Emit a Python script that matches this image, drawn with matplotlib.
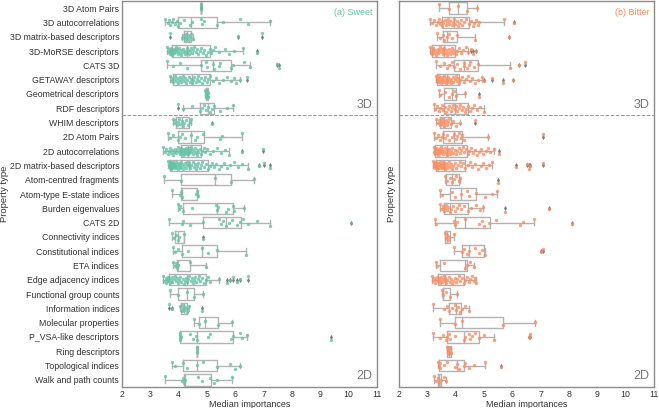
import numpy as np
import matplotlib
matplotlib.use("Agg")
import matplotlib.pyplot as plt

plt.rcParams["font.family"] = ["Liberation Sans", "DejaVu Sans"]

# =========================
# DATA
# =========================

categories = [
    "3D Atom Pairs", "3D autocorrelations", "3D matrix-based descriptors",
    "3D-MoRSE descriptors", "CATS 3D", "GETAWAY descriptors",
    "Geometrical descriptors", "RDF descriptors", "WHIM descriptors",
    "2D Atom Pairs", "2D autocorrelations", "2D matrix-based descriptors",
    "Atom-centred fragments", "Atom-type E-state indices", "Burden eigenvalues",
    "CATS 2D", "Connectivity indices", "Constitutional indices", "ETA indices",
    "Edge adjacency indices", "Functional group counts", "Information indices",
    "Molecular properties", "P_VSA-like descriptors", "Ring descriptors",
    "Topological indices", "Walk and path counts",
]

# box statistics (sweet)
sweet_q1 = [4.78, 3.96, 4.19, 3.75, 4.78, 3.79, 4.95, 4.76, 3.91, 3.96, 4.07, 3.70, 4.07, 4.07,
            4.17, 4.85, 3.87, 4.12, 3.93, 3.65, 3.99, 4.10, 4.73, 4.05, 4.64, 4.17, 4.19]
sweet_med = [4.78, 4.43, 4.30, 4.30, 5.20, 4.46, 4.99, 5.02, 4.11, 4.43, 4.34, 4.38, 5.29, 4.12,
             5.35, 5.67, 3.96, 4.82, 3.97, 4.30, 4.29, 4.20, 4.93, 4.66, 4.64, 4.64, 4.22]
sweet_q3 = [4.78, 5.37, 4.43, 5.10, 5.84, 5.09, 5.03, 5.23, 4.38, 4.90, 4.78, 5.02, 5.84, 4.66,
            5.91, 6.19, 4.20, 5.37, 4.40, 4.95, 4.54, 4.30, 5.40, 5.91, 4.64, 5.35, 5.13]
sweet_lo = [4.78, 3.51, 4.11, 3.60, 3.58, 3.70, 4.93, 4.17, 3.79, 3.64, 3.46, 3.64, 3.48, 3.76,
            3.99, 3.67, 3.78, 3.79, 3.81, 3.45, 3.70, 4.05, 4.54, 4.03, 4.64, 3.76, 3.52]
sweet_hi = [4.78, 7.23, 4.50, 6.26, 6.52, 6.15, 5.05, 5.93, 4.45, 6.23, 5.76, 6.46, 6.66, 4.70,
            6.29, 7.21, 4.20, 6.36, 4.97, 5.44, 4.87, 4.35, 5.88, 6.41, 4.64, 6.17, 5.88]

sweet_points = [
    [4.78, 4.78, 4.79],
    [3.51, 3.62, 3.66, 3.70, 3.76, 3.81, 3.86, 3.93, 3.98, 4.05, 4.20, 4.40, 4.46, 4.80, 4.83,
     4.88, 5.35, 5.58, 6.17, 6.46, 7.23],
    [3.70, 4.12, 4.18, 4.21, 4.24, 4.27, 4.30, 4.33, 4.36, 4.40, 4.44, 4.50, 6.08, 6.93],
    [3.60, 3.64, 3.66, 3.69, 3.71, 3.72, 3.74, 3.76, 3.77, 3.80, 3.82, 3.83, 3.86, 3.89, 3.91,
     3.94, 3.96, 3.99, 4.02, 4.05, 4.08, 4.10, 4.14, 4.17, 4.21, 4.24, 4.28, 4.30, 4.33, 4.36,
     4.41, 4.45, 4.47, 4.52, 4.55, 4.61, 4.66, 4.70, 4.76, 4.80, 4.86, 4.91, 4.97, 5.03, 5.09,
     5.14, 5.21, 5.29, 5.44, 5.62, 5.79, 5.97, 6.26, 6.78],
    [3.58, 3.81, 4.05, 4.29, 4.78, 4.97, 5.00, 5.20, 5.25, 5.44, 5.46, 5.84, 5.93, 6.31, 6.52,
     7.47, 7.54],
    [3.70, 3.74, 3.77, 3.80, 3.83, 3.86, 3.90, 3.93, 3.97, 4.01, 4.05, 4.09, 4.12, 4.16, 4.20,
     4.24, 4.27, 4.31, 4.35, 4.40, 4.44, 4.47, 4.51, 4.55, 4.60, 4.64, 4.69, 4.73, 4.78, 4.82,
     4.88, 4.93, 4.99, 5.05, 5.12, 5.20, 5.31, 5.42, 5.56, 5.72, 5.85, 5.94, 6.03, 6.15, 6.41],
    [4.93, 4.95, 4.96, 4.98, 4.99, 5.00, 5.01, 5.03, 5.05],
    [3.96, 4.17, 4.46, 4.76, 4.82, 4.88, 4.97, 5.05, 5.11, 5.17, 5.23, 5.46, 5.70, 5.93],
    [3.79, 3.84, 3.88, 3.93, 3.97, 4.01, 4.06, 4.11, 4.15, 4.20, 4.27, 4.34, 4.40, 4.45, 5.18],
    [3.64, 3.70, 3.79, 3.96, 4.03, 4.11, 4.23, 4.43, 4.58, 4.66, 4.87, 5.46, 5.52, 6.23],
    [3.46, 3.52, 3.57, 3.61, 3.66, 3.70, 3.73, 3.77, 3.80, 3.84, 3.88, 3.91, 3.95, 3.98, 4.01,
     4.04, 4.06, 4.08, 4.10, 4.12, 4.14, 4.16, 4.18, 4.20, 4.22, 4.24, 4.26, 4.28, 4.30, 4.32,
     4.34, 4.36, 4.38, 4.40, 4.42, 4.45, 4.48, 4.51, 4.54, 4.57, 4.60, 4.63, 4.66, 4.70, 4.74,
     4.78, 4.83, 4.88, 4.94, 5.01, 5.10, 5.22, 5.35, 5.48, 5.62, 5.76, 6.23, 6.99],
    [3.64, 3.66, 3.68, 3.69, 3.70, 3.71, 3.72, 3.73, 3.74, 3.75, 3.76, 3.78, 3.79, 3.81, 3.82,
     3.84, 3.86, 3.88, 3.90, 3.92, 3.94, 3.96, 3.98, 4.00, 4.03, 4.05, 4.08, 4.10, 4.13, 4.16,
     4.19, 4.22, 4.25, 4.28, 4.31, 4.35, 4.38, 4.41, 4.45, 4.49, 4.53, 4.57, 4.61, 4.65, 4.70,
     4.74, 4.79, 4.84, 4.90, 4.96, 5.02, 5.09, 5.16, 5.24, 5.32, 5.41, 5.50, 5.60, 5.71, 5.82,
     5.95, 6.08, 6.22, 6.46, 6.82, 7.02, 7.23],
    [3.48, 4.07, 5.29, 5.84, 6.66],
    [3.76, 4.05, 4.08, 4.12, 4.60, 4.66, 4.70],
    [3.99, 4.02, 4.05, 4.17, 4.46, 5.33, 5.35, 5.38, 5.68, 5.74, 5.91, 5.95, 6.29],
    [3.67, 4.11, 4.17, 4.40, 4.85, 5.44, 5.49, 5.56, 5.67, 5.79, 5.87, 6.05, 6.17, 6.27, 6.46,
     6.76, 7.21, 10.08],
    [3.78, 3.84, 3.91, 3.96, 4.00, 4.20, 4.85],
    [3.79, 3.87, 3.96, 4.11, 4.34, 4.82, 5.05, 5.35, 6.36],
    [3.81, 3.86, 3.90, 3.95, 3.98, 4.40, 4.97],
    [3.45, 3.50, 3.54, 3.57, 3.60, 3.62, 3.64, 3.66, 3.69, 3.72, 3.75, 3.78, 3.82, 3.86, 3.90,
     3.94, 3.98, 4.02, 4.06, 4.10, 4.14, 4.18, 4.22, 4.26, 4.30, 4.34, 4.38, 4.42, 4.46, 4.50,
     4.54, 4.58, 4.62, 4.67, 4.72, 4.77, 4.83, 4.89, 4.95, 5.02, 5.09, 5.44, 5.70, 5.82, 5.93,
     6.05, 6.17, 6.43],
    [3.70, 3.99, 4.29, 4.54, 4.87],
    [3.67, 3.76, 4.05, 4.11, 4.14, 4.17, 4.20, 4.24, 4.28, 4.31, 4.35, 4.82],
    [4.54, 4.73, 4.93, 5.40, 5.88],
    [4.03, 4.04, 4.05, 4.06, 4.07, 4.40, 4.50, 4.62, 4.66, 5.02, 5.11, 5.85, 5.91, 6.17, 6.25,
     6.41, 9.37],
    [4.64, 4.64, 4.64],
    [3.76, 3.88, 4.17, 4.29, 4.64, 4.87, 5.35, 5.82, 6.00, 6.17],
    [3.52, 4.11, 4.15, 4.19, 4.22, 4.70, 4.82, 5.09, 5.23, 5.35, 5.88],
]

# box statistics (bitter)
bitter_q1 = [3.75, 3.52, 3.55, 3.16, 3.93, 3.34, 3.58, 3.58, 3.46, 3.55, 3.28, 3.32, 3.66, 3.81,
             3.58, 3.99, 3.64, 4.22, 3.46, 3.36, 3.54, 3.75, 3.99, 3.69, 3.69, 3.42, 3.36]
bitter_med = [4.07, 3.95, 3.68, 3.58, 4.31, 3.69, 3.87, 3.99, 3.60, 3.95, 3.69, 3.58, 3.87, 4.19,
              3.79, 4.34, 3.69, 4.46, 4.34, 3.64, 3.56, 4.02, 4.22, 4.28, 3.76, 4.05, 3.42]
bitter_q3 = [4.40, 4.46, 4.05, 3.99, 4.78, 4.11, 4.02, 4.42, 3.84, 4.22, 4.40, 4.34, 4.13, 4.72,
             4.42, 5.22, 3.81, 4.99, 4.40, 4.28, 3.79, 4.20, 5.67, 4.81, 3.84, 4.28, 3.49]
bitter_lo = [3.40, 3.11, 3.34, 3.11, 3.32, 3.32, 3.40, 3.22, 3.32, 3.25, 3.22, 3.20, 3.64, 3.46,
             3.46, 3.28, 3.62, 3.93, 3.32, 3.16, 3.52, 3.20, 3.46, 3.20, 3.69, 3.36, 3.25]
bitter_hi = [4.75, 5.69, 4.69, 4.45, 5.91, 4.93, 4.34, 5.01, 4.14, 5.13, 5.34, 5.28, 4.16, 5.46,
             4.96, 6.75, 3.93, 5.03, 4.64, 4.73, 4.05, 4.46, 6.81, 5.34, 3.84, 5.05, 3.67]

bitter_points = [
    [3.40, 3.75, 4.07, 4.40, 4.75],
    [3.11, 3.18, 3.24, 3.30, 3.36, 3.41, 3.46, 3.50, 3.53, 3.57, 3.61, 3.65, 3.69, 3.73, 3.77,
     3.81, 3.86, 3.90, 3.95, 3.99, 4.03, 4.08, 4.13, 4.18, 4.24, 4.31, 4.38, 4.46, 4.55, 4.60,
     4.66, 4.72, 4.78, 4.82, 5.69, 6.05],
    [3.34, 3.46, 3.55, 3.60, 3.68, 3.75, 3.87, 4.05, 4.69, 5.87],
    [3.11, 3.13, 3.15, 3.17, 3.19, 3.21, 3.24, 3.27, 3.30, 3.33, 3.36, 3.39, 3.42, 3.45, 3.48,
     3.51, 3.54, 3.57, 3.60, 3.63, 3.66, 3.69, 3.72, 3.75, 3.79, 3.83, 3.87, 3.91, 3.95, 4.00,
     4.06, 4.12, 4.19, 4.27, 4.36, 4.45, 4.55, 4.62, 4.70],
    [3.32, 3.46, 3.58, 3.69, 3.78, 3.87, 3.93, 4.05, 4.16, 4.28, 4.31, 4.40, 4.46, 4.52, 4.64,
     4.78, 5.91, 6.25, 6.44],
    [3.32, 3.33, 3.35, 3.37, 3.39, 3.41, 3.43, 3.45, 3.47, 3.50, 3.52, 3.55, 3.57, 3.60, 3.62,
     3.65, 3.67, 3.70, 3.73, 3.76, 3.79, 3.82, 3.85, 3.89, 3.92, 3.96, 4.00, 4.04, 4.08, 4.12,
     4.17, 4.22, 4.28, 4.35, 4.42, 4.50, 4.58, 4.67, 4.78, 4.93, 5.01, 5.28, 5.67, 6.02],
    [3.40, 3.46, 3.64, 3.75, 3.87, 3.95, 4.02, 4.34, 4.81],
    [3.22, 3.28, 3.34, 3.40, 3.46, 3.52, 3.57, 3.62, 3.67, 3.72, 3.77, 3.82, 3.87, 3.92, 3.97,
     4.01, 4.06, 4.11, 4.16, 4.21, 4.26, 4.32, 4.38, 4.44, 4.51, 4.58, 4.66, 4.75, 4.85, 5.01],
    [3.32, 3.36, 3.40, 3.44, 3.47, 3.50, 3.53, 3.56, 3.59, 3.62, 3.65, 3.69, 3.73, 3.78, 3.84,
     3.92, 4.02, 4.14, 4.69],
    [3.25, 3.31, 3.37, 3.43, 3.50, 3.55, 3.62, 3.70, 3.78, 3.86, 3.95, 4.00, 4.06, 4.12, 4.18,
     4.22, 4.28, 5.13, 7.07],
    [3.22, 3.24, 3.26, 3.28, 3.30, 3.32, 3.34, 3.36, 3.38, 3.40, 3.42, 3.44, 3.46, 3.48, 3.50,
     3.53, 3.56, 3.59, 3.62, 3.65, 3.68, 3.71, 3.74, 3.77, 3.80, 3.84, 3.88, 3.92, 3.96, 4.00,
     4.05, 4.10, 4.15, 4.20, 4.25, 4.30, 4.36, 4.42, 4.48, 4.55, 4.62, 4.69, 4.76, 4.83, 4.90,
     4.98, 5.06, 5.14, 5.22, 5.34, 5.52],
    [3.20, 3.22, 3.24, 3.26, 3.28, 3.30, 3.31, 3.33, 3.35, 3.37, 3.39, 3.41, 3.43, 3.45, 3.47,
     3.49, 3.51, 3.53, 3.55, 3.57, 3.59, 3.61, 3.64, 3.67, 3.70, 3.73, 3.76, 3.80, 3.84, 3.88,
     3.92, 3.97, 4.02, 4.08, 4.14, 4.20, 4.27, 4.34, 4.42, 4.50, 4.59, 4.68, 4.78, 4.88, 4.98,
     5.08, 5.18, 5.28, 6.14, 6.52, 6.58, 6.64, 7.07],
    [3.64, 3.70, 3.81, 3.87, 3.93, 4.02, 4.13, 4.16, 5.48],
    [3.46, 3.52, 3.87, 3.99, 4.19, 4.40, 4.46, 4.72, 5.05, 5.28, 5.46],
    [3.46, 3.50, 3.54, 3.58, 3.62, 3.66, 3.70, 3.74, 3.79, 3.84, 3.90, 3.97, 4.05, 4.12, 4.20,
     4.30, 4.42, 4.55, 4.70, 4.85, 4.96, 5.73, 7.28],
    [3.28, 3.32, 3.93, 3.99, 4.05, 4.34, 4.81, 4.93, 5.01, 5.16, 5.43, 6.28, 6.38, 6.75, 8.11],
    [3.62, 3.66, 3.69, 3.72, 3.78, 3.93],
    [3.93, 4.22, 4.28, 4.40, 4.46, 4.69, 4.81, 4.93, 5.03, 7.01, 7.07],
    [3.32, 3.34, 3.58, 4.34, 4.40, 4.52, 4.64],
    [3.16, 3.20, 3.24, 3.28, 3.31, 3.34, 3.37, 3.40, 3.43, 3.46, 3.49, 3.52, 3.55, 3.58, 3.61,
     3.64, 3.67, 3.71, 3.75, 3.79, 3.83, 3.87, 3.91, 3.96, 4.01, 4.06, 4.11, 4.16, 4.22, 4.28,
     4.34, 4.40, 4.46, 4.52, 4.58, 4.64, 4.69, 4.73],
    [3.52, 3.56, 3.65, 3.79, 4.05],
    [3.20, 3.58, 3.69, 3.75, 3.87, 3.99, 4.02, 4.07, 4.16, 4.22, 4.34, 4.46],
    [3.46, 3.99, 4.22, 5.67, 6.81],
    [3.20, 3.46, 3.55, 3.67, 3.71, 3.75, 3.81, 3.99, 4.28, 4.34, 4.46, 4.52, 4.58, 4.69, 4.81,
     4.99, 5.34, 6.60, 6.61],
    [3.69, 3.72, 3.74, 3.76, 3.78, 3.80, 3.84],
    [3.36, 3.40, 3.43, 3.46, 3.58, 3.69, 3.99, 4.05, 4.11, 4.28, 4.34, 4.46, 4.64, 5.05, 5.60],
    [3.25, 3.32, 3.36, 3.42, 3.49, 3.58, 3.67],
]

x_ticks = [2, 3, 4, 5, 6, 7, 8, 9, 10, 11]

sweet_color = "#66c2a5"
bitter_color = "#fc8d62"
line_gray = "#b3b3b3"
spine_gray = "#8c8c8c"


# =========================
# DRAW ONE PANEL
# =========================

def draw_panel(ax, points, q1, med, q3, lo, hi, color, title, show_labels):
    n = len(categories)
    stats = []
    for i in range(n):
        stats.append(dict(med=med[i], q1=q1[i], q3=q3[i],
                          whislo=lo[i], whishi=hi[i], fliers=[]))

    props = dict(color=line_gray, linewidth=1.0)
    ax.bxp(stats, positions=list(range(n)), widths=0.8,
           orientation="horizontal", showfliers=False, manage_ticks=False,
           boxprops=props, whiskerprops=props, capprops=props,
           medianprops=props, capwidths=0.4, zorder=2)

    for i, vals in enumerate(points):
        vals = np.array(vals)
        k = np.arange(len(vals))
        jitter = ((k * 0.618034) % 1 - 0.5) * 0.55
        out = (vals < lo[i] - 1e-9) | (vals > hi[i] + 1e-9)
        ax.scatter(vals[out], np.full(out.sum(), i), marker="d", s=7,
                   color="#808080", linewidths=0, zorder=2.5)
        ax.scatter(vals, i + jitter, s=6, color=color, alpha=0.8,
                   linewidths=0, zorder=3)

    ax.axhline(7.5, color="#9a9a9a", linestyle="--", linewidth=0.7, zorder=1)

    ax.set_xlim(2, 11)
    ax.set_ylim(n - 0.5, -0.5)
    ax.set_xticks(x_ticks)
    ax.set_yticks(range(n))
    if show_labels:
        ax.set_yticklabels(categories)
    else:
        ax.set_yticklabels([])

    ax.tick_params(length=0, labelsize=6.3, colors="#333333", pad=2)
    for s in ax.spines.values():
        s.set_color(spine_gray)
        s.set_linewidth(1.0)

    ax.set_xlabel("Median importances", fontsize=6.5, color="#333333", labelpad=1)
    ax.set_ylabel("Property type", fontsize=6.8, color="#333333")
    if show_labels:
        ax.yaxis.set_label_coords(-0.445, 0.5)
    else:
        ax.yaxis.set_label_coords(-0.013, 0.5)

    ax.text(10.85, 0.3, title, ha="right", va="center", fontsize=6.5, color=color)
    ax.text(10.85, 6.75, "3D", ha="right", va="center", fontsize=9, color="#7a7a7a")
    ax.text(10.85, 25.7, "2D", ha="right", va="center", fontsize=9, color="#7a7a7a")


# =========================
# FIGURE
# =========================

fig = plt.figure(figsize=(6.59, 4.08), dpi=100)

ax1 = fig.add_axes([122 / 659, 21 / 408, 255 / 659, 386 / 408])
ax2 = fig.add_axes([399 / 659, 21 / 408, 255 / 659, 386 / 408])

draw_panel(ax1, sweet_points, sweet_q1, sweet_med, sweet_q3, sweet_lo, sweet_hi,
           sweet_color, "(a) Sweet", True)
draw_panel(ax2, bitter_points, bitter_q1, bitter_med, bitter_q3, bitter_lo, bitter_hi,
           bitter_color, "(b) Bitter", False)

fig.savefig("out.png", dpi=100)
